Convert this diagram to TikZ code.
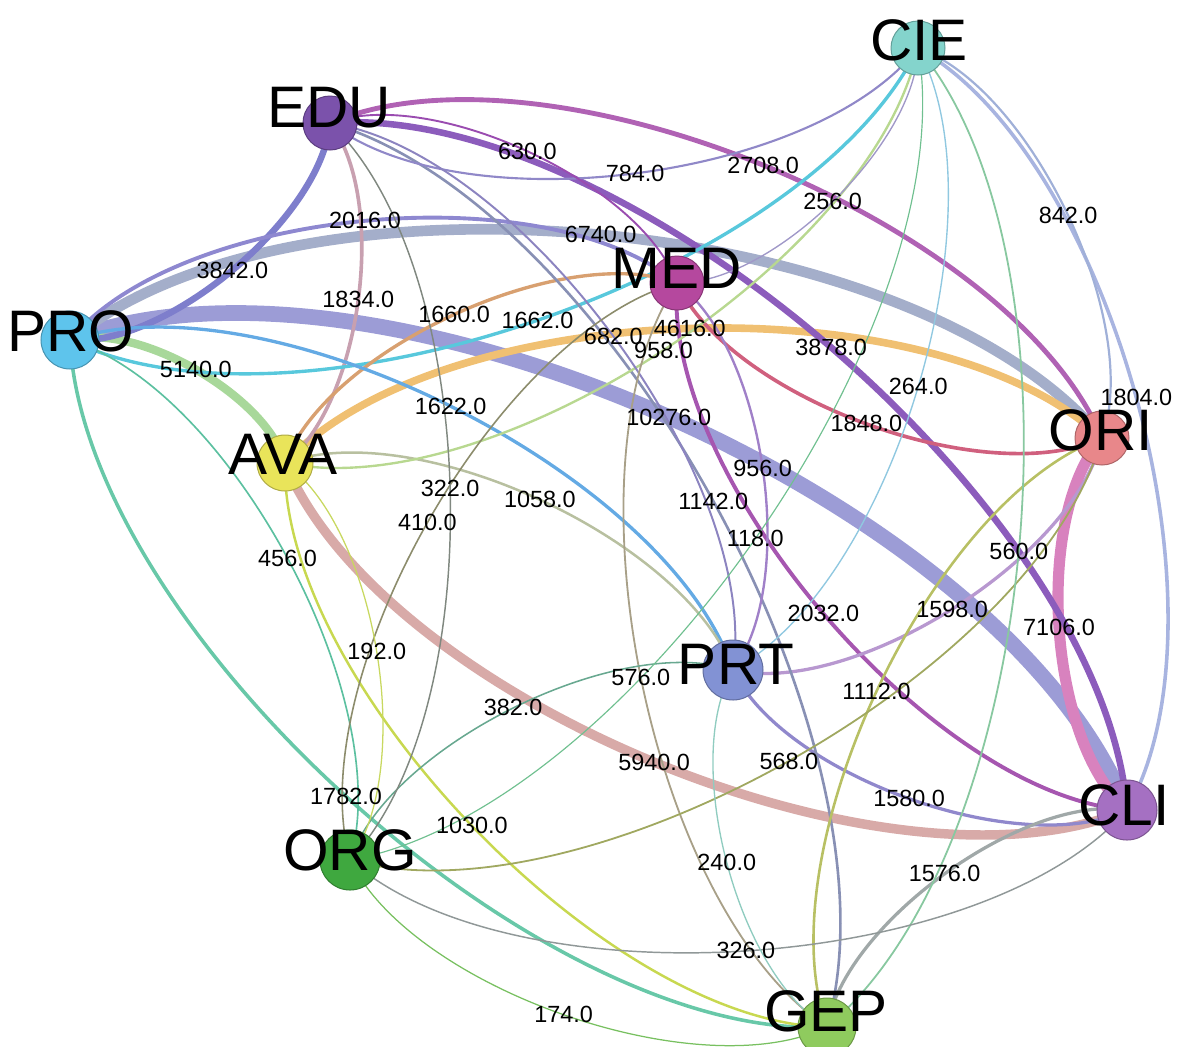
\documentclass[tikz,border=0pt]{standalone}
\usepackage{fontspec}
\setmainfont{Liberation Sans}
\usepackage{tikz}
\usetikzlibrary{calc}
\pgfdeclarelayer{edges}
\pgfdeclarelayer{weights}
\pgfsetlayers{edges,weights,main}
\tikzset{
  vertex/.style = {circle, fill=#1, draw=#1!75!black, line width=0.3mm, inner sep=0pt},
  vname/.style = {font=\fontsize{50}{50}\selectfont, inner sep=0pt},
  wlabel/.style = {font=\fontsize{20}{20}\selectfont, inner sep=0pt},
  curved/.style = {bend left=45, looseness=0.72},
  link/.style n args={2}{draw=#1, line width={(1+#2/700)*0.3mm}, curved},
}
\definecolor{xcie}{HTML}{84D4CC}
\definecolor{xedu}{HTML}{7B52AB}
\definecolor{xmed}{HTML}{B5489E}
\definecolor{xpro}{HTML}{5EC4EC}
\definecolor{xori}{HTML}{E8878A}
\definecolor{xava}{HTML}{E9E45A}
\definecolor{xprt}{HTML}{8292D4}
\definecolor{xcli}{HTML}{A570C2}
\definecolor{xorg}{HTML}{3FA83F}
\definecolor{xgep}{HTML}{8FCB5E}

\newcommand\linklist{%
  PRO/CLI/10276/9C9CD6, CLI/ORI/7106/D882BE, PRO/ORI/6740/A4AECA,
  CLI/AVA/5940/D8AAA8, PRO/AVA/5140/A8D89A, AVA/ORI/4616/F0C072,
  EDU/CLI/3878/8C5CBC, EDU/PRO/3842/7E7ECC, EDU/ORI/2708/B062B4,
  CLI/MED/2032/A656B0, PRO/MED/2016/8E88D0, ORI/MED/1848/D0607E,
  EDU/AVA/1834/C8A0B0, CIE/CLI/1804/A8B4E0, GEP/PRO/1782/68C8A8,
  CIE/PRO/1662/58C8DC, AVA/MED/1660/D8A070, PRO/PRT/1622/64AAE4,
  ORI/PRT/1598/B898D0, CLI/PRT/1580/9088CC, GEP/CLI/1576/A0A8A8,
  EDU/GEP/1142/8890B4, GEP/ORI/1112/B8C064, AVA/PRT/1058/B8C0A0,
  GEP/AVA/1030/C8D850, CIE/AVA/958/B8D890, MED/PRT/956/A080C8,
  CIE/ORI/842/A0B0D8, CIE/EDU/784/9088C8, EDU/PRT/682/8C84C0,
  EDU/MED/630/9A4CB0, GEP/MED/576/A8A088, ORI/ORG/568/A0A860,
  CIE/GEP/560/88C8A0, PRO/ORG/456/5CC0A0, ORG/MED/410/8C8C6C,
  ORG/PRT/382/68A890, CLI/ORG/326/909898, EDU/ORG/322/808880,
  CIE/PRT/264/90C8E0, CIE/MED/256/A098C8, GEP/PRT/240/90CCC0,
  AVA/ORG/192/C8D860, GEP/ORG/174/78C060, CIE/ORG/118/70C090}

\begin{document}
\begin{tikzpicture}[x=0.3mm, y=-0.3mm]
  \useasboundingbox (0,0) rectangle (1179,1046);

  \node[vertex=xcie, minimum size=16.2mm] (CIE) at (918,48) {};
  \node[vertex=xedu, minimum size=16.2mm] (EDU) at (330,123) {};
  \node[vertex=xmed, minimum size=16.2mm] (MED) at (677,283) {};
  \node[vertex=xpro, minimum size=17.4mm] (PRO) at (70,340) {};
  \node[vertex=xori, minimum size=16.2mm] (ORI) at (1102,438) {};
  \node[vertex=xava, minimum size=16.8mm] (AVA) at (285,463) {};
  \node[vertex=xprt, minimum size=18mm] (PRT) at (733,670) {};
  \node[vertex=xcli, minimum size=18mm] (CLI) at (1127,810) {};
  \node[vertex=xorg, minimum size=18mm] (ORG) at (350,860) {};
  \node[vertex=xgep, minimum size=17.4mm] (GEP) at (827,1027) {};

  \node[vname] (CIE-l) at (919,40) {CIE};
  \node[vname] (EDU-l) at (329,108) {EDU};
  \node[vname] (MED-l) at (677,268) {MED};
  \node[vname] (PRO-l) at (71,331) {PRO};
  \node[vname] (ORI-l) at (1101,430) {ORI};
  \node[vname] (AVA-l) at (283,454) {AVA};
  \node[vname] (PRT-l) at (736,664) {PRT};
  \node[vname] (CLI-l) at (1124,805) {CLI};
  \node[vname] (ORG-l) at (350,850) {ORG};
  \node[vname] (GEP-l) at (826,1011) {GEP};

  \begin{pgfonlayer}{edges}
    \foreach \s/\t/\w/\c in \linklist {
      \definecolor{linkcol}{HTML}{\c}
      \draw[link={linkcol}{\w}] (\s.center) to (\t.center);
    }
  \end{pgfonlayer}
  \begin{pgfonlayer}{weights}
    \foreach \s/\t/\w/\c in \linklist
      \path[curved] (\s.center) to node[wlabel] (w-\s-\t) {\w.0} (\t.center);
  \end{pgfonlayer}
\end{tikzpicture}
\end{document}
